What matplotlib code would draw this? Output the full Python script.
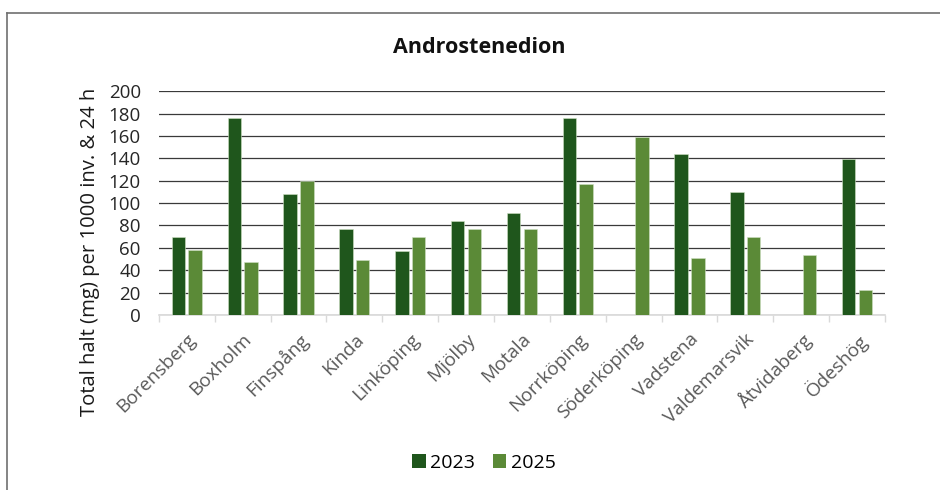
import numpy as np
import matplotlib
matplotlib.use("Agg")
import matplotlib.pyplot as plt
from matplotlib.lines import Line2D
from matplotlib.patches import Patch

plt.rcParams['font.family'] = ['Open Sans', 'DejaVu Sans']

places = ["Borensberg", "Boxholm", "Finspång", "Kinda", "Linköping", "Mjölby",
          "Motala", "Norrköping", "Söderköping", "Vadstena", "Valdemarsvik",
          "Åtvidaberg", "Ödeshög"]
vals_2023 = [70, 176, 108, 77, 57, 84, 91, 176, np.nan, 144, 110, np.nan, 139]
vals_2025 = [58, 47, 120, 49, 70, 77, 77, 117, 159, 51, 70, 54, 22]
series_labels = ["2023", "2025"]
yticks = list(range(0, 201, 20))

c2023 = "#1f561c"
c2025 = "#5b8a37"

fig = plt.figure(figsize=(9.4, 4.9), dpi=100)
ax = fig.add_axes([0.169, 0.357, 0.7725, 0.457])

x = np.arange(len(places))
w = 0.24
ax.bar(x - w / 2 - 0.03, vals_2023, width=w, color=c2023, edgecolor="#cfe0c4",
       linewidth=0.4, zorder=3)
ax.bar(x + w / 2 + 0.03, vals_2025, width=w, color=c2025, edgecolor="#cfe0c4",
       linewidth=0.4, zorder=3)

ax.set_xlim(-0.5, len(places) - 0.5)
ax.set_ylim(0, 200)
ax.set_yticks(yticks)
ax.set_yticklabels([str(t) for t in yticks], fontsize=13.5, color="#262626")
ax.yaxis.grid(True, color="#3a3a3a", linewidth=0.9, zorder=0)
ax.tick_params(axis="y", length=0, pad=13)

ax.set_xticks(x)
ax.set_xticklabels(places, rotation=45, ha="right", rotation_mode="anchor",
                   fontsize=13.7, color="#595959")
ax.set_xticks(np.arange(len(places) + 1) - 0.5, minor=True)
ax.tick_params(axis="x", which="major", length=0, pad=11)
ax.tick_params(axis="x", which="minor", length=5, color="#d9d9d9", width=1)

for s in ["top", "right", "left"]:
    ax.spines[s].set_visible(False)
ax.spines["bottom"].set_color("#d9d9d9")
ax.spines["bottom"].set_linewidth(1.2)

ax.set_ylabel("Total halt (mg) per 1000 inv. & 24 h", fontsize=14.6,
              color="#1a1a1a", va="center")
ax.yaxis.set_label_coords(-0.095, 0.28)

fig.text(0.51, 0.904, "Androstenedion", ha="center", va="center",
         fontsize=15.5, fontweight="bold", color="#111111")

handles = [Patch(facecolor=c2023), Patch(facecolor=c2025)]
fig.legend(handles, series_labels, loc="center", bbox_to_anchor=(0.515, 0.055),
           ncol=2, frameon=False, fontsize=14, handlelength=0.7,
           handleheight=0.7, handletextpad=0.25, columnspacing=0.9)

# outer chart frame
fig.add_artist(Line2D([0.0075, 0.0075], [0.0, 0.974], transform=fig.transFigure,
                      color="#707070", linewidth=1.2))
fig.add_artist(Line2D([0.0075, 1.0], [0.974, 0.974], transform=fig.transFigure,
                      color="#707070", linewidth=1.2))

fig.savefig("out.png", dpi=100)
